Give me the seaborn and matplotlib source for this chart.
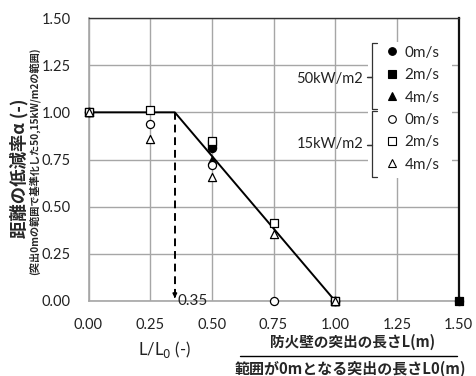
import numpy as np
import pandas as pd
import matplotlib
matplotlib.use("Agg")
import matplotlib.pyplot as plt
from matplotlib.lines import Line2D
from matplotlib.patches import Rectangle
import seaborn as sns

# ---- data ----
x_50_0 = [0.0, 0.5, 1.0, 1.5]
y_50_0 = [1.0, 0.81, 0.0, 0.0]
x_50_2 = [0.0, 0.5, 1.0, 1.5]
y_50_2 = [1.0, 0.83, 0.0, 0.0]
x_50_4 = [0.0, 0.5, 1.0]
y_50_4 = [1.0, 0.75, 0.0]
x_15_0 = [0.0, 0.25, 0.5, 0.75, 1.0]
y_15_0 = [1.0, 0.94, 0.72, 0.0, 0.0]
x_15_2 = [0.0, 0.25, 0.5, 0.75, 1.0]
y_15_2 = [1.0, 1.015, 0.85, 0.415, 0.0]
x_15_4 = [0.0, 0.25, 0.5, 0.75, 1.0]
y_15_4 = [1.0, 0.86, 0.655, 0.355, 0.0]
line_x = [0.0, 0.35, 1.0]
line_y = [1.0, 1.0, 0.0]
break_x = 0.35
x_ticks = [0.0, 0.25, 0.5, 0.75, 1.0, 1.25, 1.5]
y_ticks = [0.0, 0.25, 0.5, 0.75, 1.0, 1.25, 1.5]
legend_labels = ["0m/s", "2m/s", "4m/s", "0m/s", "2m/s", "4m/s"]
group_labels = ["50kW/m2", "15kW/m2"]

series = [
    ("50-0", x_50_0, y_50_0, "o", "black"),
    ("50-2", x_50_2, y_50_2, "s", "black"),
    ("50-4", x_50_4, y_50_4, "^", "black"),
    ("15-0", x_15_0, y_15_0, "o", "white"),
    ("15-2", x_15_2, y_15_2, "s", "white"),
    ("15-4", x_15_4, y_15_4, "^", "white"),
]

sns.set_style("white")
plt.rcParams['font.family'] = ['Lato', 'Noto Sans CJK JP', 'DejaVu Sans']
JP = ['Noto Sans CJK JP', 'DejaVu Sans']

fig = plt.figure(figsize=(4.76, 3.76), dpi=100)
AX_L, AX_B, AX_W, AX_H = 88.5, 301, 370, 283
ax = fig.add_axes([AX_L/476, 1-AX_B/376, AX_W/476, AX_H/376])

def fx(px):
    return px / 476
def fy(py):
    return 1 - py / 376

gray = "#a6a6a6"
ax.set_xlim(0, 1.5)
ax.set_ylim(0, 1.5)
ax.set_xticks(x_ticks)
ax.set_yticks(y_ticks)
ax.set_xticks(np.arange(0, 1.5001, 0.05), minor=True)
ax.grid(True, which="major", color=gray, linewidth=1.0)
ax.set_axisbelow(True)
ax.tick_params(axis="both", which="major", length=0, labelsize=10.5, colors="#222222")
ax.tick_params(axis="x", which="major", pad=12)
ax.tick_params(axis="y", which="major", pad=13)
ax.tick_params(axis="x", which="minor", direction="in", length=3, color=gray, width=0.8)
ax.set_xticklabels([f"{v:.2f}" for v in x_ticks])
ax.set_yticklabels([f"{v:.2f}" for v in y_ticks])
for s in ["left", "bottom"]:
    ax.spines[s].set_color(gray)
    ax.spines[s].set_linewidth(1.2)
ax.spines["top"].set_color("#333333")
ax.spines["top"].set_linewidth(1.0)
ax.spines["right"].set_color("#111111")
ax.spines["right"].set_linewidth(1.6)

# fitted line
sns.lineplot(x=line_x, y=line_y, ax=ax, color="black", linewidth=1.4, zorder=3,
             estimator=None, sort=False)
# dashed vertical
ax.plot([break_x, break_x], [line_y[1], 0.015], color="black", linewidth=1.4,
        linestyle=(0, (4, 2.5)), zorder=3)
ax.annotate("", xy=(break_x, 0.0), xytext=(break_x, 0.04),
            arrowprops=dict(arrowstyle="-|>", color="black", lw=1.2, mutation_scale=6))
ax.text(break_x + 0.01, 0.0, "0.35", fontsize=11, ha="left", va="center", color="#222222",
        zorder=4)

# scatter points
for name, xs, ys, m, fc in series:
    df = pd.DataFrame({"x": xs, "y": ys})
    sns.scatterplot(data=df, x="x", y="y", marker=m, ax=ax, s=34,
                    color=fc, edgecolor="black", linewidth=0.9, zorder=5, clip_on=False)

ax.set_xlabel("")
ax.set_ylabel("")

# white background box of legend (covers grid)
ax.add_patch(Rectangle(((368-AX_L)/AX_W, (AX_B-178)/AX_H), (452-368)/AX_W, (178-42)/AX_H,
                       transform=ax.transAxes, facecolor="white", edgecolor="none", zorder=2))

# legend
handles = [Line2D([], [], linestyle="none", marker=m, markersize=5.5,
                  markerfacecolor=fc, markeredgecolor="black", markeredgewidth=0.8)
           for _, _, _, m, fc in series]
leg = ax.legend(handles, legend_labels, loc="upper left",
                bbox_to_anchor=((384-AX_L)/AX_W, 1-(42-18)/AX_H),
                frameon=False, fontsize=11, handlelength=0.6, handletextpad=0.5,
                labelspacing=0.55, borderpad=0.25, borderaxespad=0)

def brace(x, y0, y1, ym):
    xs = [x + 5, x, x, x - 5, x, x, x + 5]
    ys = [y0, y0, ym, ym, ym, y1, y1]
    fig.add_artist(Line2D([fx(v) for v in xs], [fy(v) for v in ys],
                          color="#333333", linewidth=0.9))

brace(372, 43, 109, 77)
brace(372, 111, 177, 145)
fig.text(fx(363), fy(79), group_labels[0], fontsize=10.5, ha="right", va="center", color="#222222")
fig.text(fx(363), fy(144), group_labels[1], fontsize=10.5, ha="right", va="center", color="#222222")

# y labels
fig.text(fx(19), fy(168), "距離の低減率α (-)", rotation=90, fontsize=12.5,
         fontweight="bold", family=JP, ha="center", va="center")
fig.text(fx(34), fy(161), "(突出0mの範囲で基準化した50,15kW/m2の範囲)", rotation=90,
         fontsize=7.3, fontweight="bold", family=JP, ha="center", va="center")

# x labels
fig.text(fx(165), fy(349), "L/L$_0$ (-)", fontsize=12, ha="center", va="center",
         color="#222222")
fig.text(fx(353), fy(342), "防火壁の突出の長さL(m)", fontsize=10.5, fontweight="bold",
         family=JP, ha="center", va="center")
fig.add_artist(Line2D([fx(240), fx(457)], [fy(356), fy(356)], color="black", linewidth=1.0))
fig.text(fx(350), fy(369), "範囲が0mとなる突出の長さL0(m)", fontsize=10.8, fontweight="bold",
         family=JP, ha="center", va="center")

fig.savefig("out.png", dpi=100)
